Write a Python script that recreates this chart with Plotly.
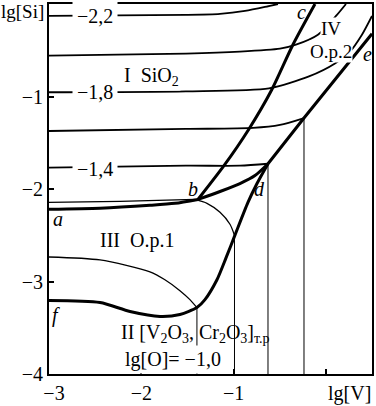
import plotly.graph_objects as go

# ---- data (lg[V], lg[Si]) ----
# iso-concentration lines lg[O] = const (regions I / IV)
iso_m22_x = [-3.0, -1.516, -1.147, -0.876, -0.660, -0.519]
iso_m22_y = [-0.129, -0.118, -0.107, -0.075, -0.032, 0.0]
iso_m20_x = [-3.0, -1.516, -0.931, -0.497, -0.324, -0.086, 0.120, 0.218]
iso_m20_y = [-0.558, -0.536, -0.515, -0.483, -0.440, -0.332, -0.118, 0.0]
iso_m18_x = [-3.0, -1.516, -0.616, -0.183, 0.099, 0.261, 0.391, 0.5]
iso_m18_y = [-0.954, -0.944, -0.912, -0.783, -0.643, -0.515, -0.332, -0.129]
iso_m16_x = [-3.0, -1.516, -0.790, -0.497, -0.237]
iso_m16_y = [-1.373, -1.351, -1.340, -1.308, -1.233]
iso_m14_x = [-3.0, -1.516, -0.931, -0.627]
iso_m14_y = [-1.769, -1.748, -1.748, -1.727]
# region III iso-lines
iso_m12a_x = [-3.0, -2.231, -1.418]
iso_m12a_y = [-2.145, -2.134, -2.113]
iso_m12b_x = [-1.418, -1.288, -1.147, -1.039, -0.99]
iso_m12b_y = [-2.113, -2.155, -2.252, -2.381, -2.499]
iso_m10_x = [-3.0, -2.447, -1.906, -1.744, -1.581, -1.473, -1.397]
iso_m10_y = [-2.735, -2.767, -2.895, -2.981, -3.099, -3.196, -3.282]
# vertical continuations (x, y_start)
vert_x = [-1.397, -0.99, -0.627, -0.237]
vert_y0 = [-3.282, -2.499, -1.727, -1.233]

# phase boundaries (thick)
ab_x = [-3.0, -2.447, -1.906, -1.635, -1.386]
ab_y = [-2.220, -2.209, -2.177, -2.155, -2.113]
bc_x = [-1.386, -1.104, -0.833, -0.595, -0.357, -0.118]
bc_y = [-2.113, -1.748, -1.351, -0.944, -0.440, 0.0]
bd_x = [-1.386, -1.147, -0.931, -0.768, -0.627]
bd_y = [-2.113, -2.027, -1.941, -1.855, -1.727]
f_x = [-3.0, -2.447, -2.122, -1.797, -1.581, -1.397, -1.310, -1.180, -1.082,
       -0.985, -0.844, -0.746, -0.627]
f_y = [-3.206, -3.228, -3.324, -3.378, -3.357, -3.282, -3.196, -2.981, -2.745,
       -2.499, -2.145, -1.941, -1.727]
e_x = [-0.627, -0.237, 0.5]
e_y = [-1.727, -1.233, -0.322]

x_ticks = [-3, -2, -1, 0]
x_ticktext = ["\u2002\u22123", "\u22122", "\u22121", ""]
y_ticks = [-4, -3, -2, -1]
y_ticktext = ["\u22124", "\u22123", "\u22122", "\u22121"]

FONT = "Liberation Serif"

fig = go.Figure()


def add(x, y, w, shape="spline"):
    fig.add_trace(go.Scatter(x=x, y=y, mode="lines",
                             line=dict(color="black", width=w, shape=shape, smoothing=0.7),
                             hoverinfo="skip", showlegend=False))


for xs, ys in [(iso_m22_x, iso_m22_y), (iso_m20_x, iso_m20_y), (iso_m18_x, iso_m18_y),
               (iso_m16_x, iso_m16_y), (iso_m14_x, iso_m14_y)]:
    add(xs, ys, 1.8)
for xs, ys in [(iso_m12a_x, iso_m12a_y), (iso_m12b_x, iso_m12b_y), (iso_m10_x, iso_m10_y)]:
    add(xs, ys, 1.3)
for vx, vy in zip(vert_x, vert_y0):
    add([vx, vx], [vy, -4.0], 1.0, shape="linear")
for xs, ys in [(ab_x, ab_y), (bc_x, bc_y), (bd_x, bd_y), (f_x, f_y)]:
    add(xs, ys, 3.0)
add(e_x, e_y, 3.0, shape="linear")

ann = []


def label(x, y, text, size=20, bg=None, xanchor="center", pad=1):
    d = dict(x=x, y=y, xref="x", yref="y", text=text, showarrow=False,
             font=dict(family=FONT, size=size, color="black"), xanchor=xanchor,
             yanchor="middle", borderpad=pad)
    if bg:
        d["bgcolor"] = bg
    ann.append(d)


label(-2.50, -0.129, "\u22122,2", bg="white", pad=4)
label(-2.50, -0.954, "\u22121,8", bg="white", pad=4)
label(-2.50, -1.780, "\u22121,4", bg="white", pad=4)
label(-1.884, -0.783, "I  SiO<sub>2</sub>", bg="white")
label(0.055, -0.268, "IV", size=19, bg="white", pad=0)
label(0.055, -0.515, "О.р.2", size=19, bg="white", pad=0)
label(-0.259, -0.086, "<i>c</i>")
label(0.456, -0.536, "<i>e</i>")
label(-1.44, -1.995, "<i>b</i>")
label(-0.714, -1.995, "<i>d</i>")
label(-2.90, -2.327, "<i>a</i>")
label(-2.92, -3.367, "<i>f</i>")
label(-2.047, -2.552, "III  О.р.1")
label(-2.231, -3.56, "II [V<sub>2</sub>O<sub>3</sub>, Cr<sub>2</sub>O<sub>3</sub>]<sub>т.р</sub>",
      xanchor="left", pad=0)
label(-2.209, -3.839, "lg[O]= \u22121,0", bg="white", xanchor="left", pad=2)

ann.append(dict(x=0, y=1, xref="paper", yref="paper", text="lg[Si]", showarrow=False,
                xanchor="right", yanchor="middle", xshift=-3, yshift=-7,
                font=dict(family=FONT, size=19, color="black")))
ann.append(dict(x=0.26, y=0, xref="x", yref="paper", text="lg[V]", showarrow=False,
                xanchor="center", yanchor="top", yshift=-6,
                font=dict(family=FONT, size=20, color="black")))

axis_common = dict(showline=True, linewidth=2, linecolor="black", mirror=True,
                   showgrid=False, zeroline=False, ticks="inside", ticklen=5,
                   tickwidth=1.5, tickcolor="black",
                   tickfont=dict(family=FONT, size=20, color="black"))

fig.update_layout(
    width=376, height=406,
    margin=dict(l=49, r=3, t=2, b=31),
    paper_bgcolor="white", plot_bgcolor="white",
    xaxis=dict(range=[-3, 0.5], tickvals=x_ticks, ticktext=x_ticktext, **axis_common),
    yaxis=dict(range=[-4, 0], tickvals=y_ticks, ticktext=y_ticktext, **axis_common),
    annotations=ann,
    showlegend=False,
)

fig.write_html("out.html", config={"displayModeBar": False},
               post_script="document.body.style.margin='0px';")
